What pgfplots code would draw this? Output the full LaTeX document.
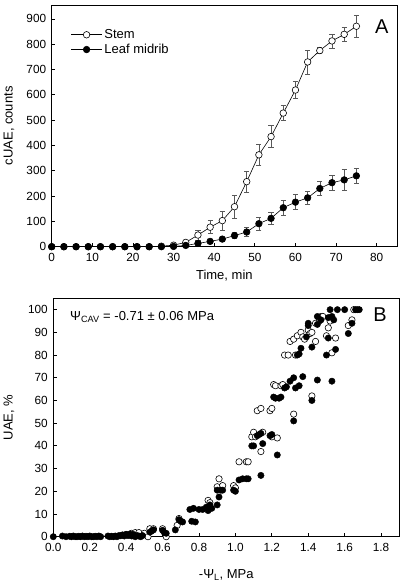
\documentclass[border=0pt]{standalone}
\usepackage{pgfplots}
\pgfplotsset{compat=1.18}
\usepackage{fontspec}
\setmainfont{Liberation Sans}
\begin{document}
\begin{tikzpicture}
\path[use as bounding box] (0,0) rectangle (403pt,-585pt);
\pgfplotsset{
  mystyle/.style={
    scale only axis, clip=false,
    tick align=inside, tick pos=left,
    major tick length=3.5pt,
    axis line style={line width=0.9pt},
    every tick/.style={black, line width=0.8pt},
    tick label style={font=\fontsize{11.8}{13}\selectfont},
    xticklabel style={yshift=-3.5pt},
    yticklabel style={xshift=-2pt},
    label style={font=\fontsize{13}{15}\selectfont},
    /pgf/number format/assume math mode=true,
  }
}
\begin{axis}[mystyle,
  at={(51.7pt,-5pt)}, anchor=north west,
  width=345.3pt, height=241.7pt,
  xmin=0, xmax=85, ymin=0, ymax=955,
  xtick={0,10,...,80}, ytick={0,100,...,900},
  xlabel={Time, min}, ylabel={cUAE, counts},
  xlabel style={at={(axis description cs:0.5,-0.119)}, anchor=center},
  ylabel style={at={(axis description cs:-0.124,0.5)}, anchor=center},
  legend style={draw=none, fill=none, font=\fontsize{13}{15}\selectfont,
    at={(axis description cs:0.046,0.916)}, anchor=north west, row sep=0pt},
  legend cell align=left,
  legend image code/.code={\draw[mark repeat=2,mark phase=2,#1] plot coordinates {(0pt,0pt) (15.5pt,0pt) (31pt,0pt)};},
]
\addplot[black, line width=0.6pt, mark=*, mark size=3.3pt, mark options={fill=white, draw=black, line width=0.6pt},
  error bars/.cd, y dir=both, y explicit,
  error bar style={gray!70!black, line width=0.6pt},
  error mark options={rotate=90, gray!70!black, mark size=2.6pt, line width=0.6pt}]
table[x=x, y=y, y error=e] {
x y e
0 0 0
3 0 0
6 0 0
9 0 0
12 0 0
15 0 0
18 0 0
21 0 0
24 0 0
27 2 2
30 6 4
33 17 6
36 46 20
39 77 26
42 103 38
45 158 44
48 257 41
51 363 41
54 435 44
57 528 29
60 619 34
63 730 47
66 775 11
69 813 28
72 839 28
75 871 43
};
\addlegendentry{Stem}
\addplot[black, line width=0.6pt, mark=*, mark size=3.3pt, mark options={fill=black, draw=black},
  error bars/.cd, y dir=both, y explicit,
  error bar style={gray!70!black, line width=0.6pt},
  error mark options={rotate=90, gray!70!black, mark size=2.6pt, line width=0.6pt}]
table[x=x, y=y, y error=e] {
x y e
0 0 0
3 0 0
6 0 0
9 0 0
12 0 0
15 0 0
18 0 0
21 0 0
24 0 0
27 0 0
30 1 1
33 5 3
36 13 5
39 21 5
42 30 8
45 44 12
48 58 17
51 91 25
54 112 22
57 154 30
60 176 30
63 193 24
66 230 28
69 253 30
72 264 40
75 280 30
};
\addlegendentry{Leaf midrib}
\node[font=\fontsize{20}{24}\selectfont] at (rel axis cs:0.9557,0.910) {A};
\end{axis}

\begin{axis}[mystyle,
  at={(53.3pt,-298.3pt)}, anchor=north west,
  width=346pt, height=238.4pt,
  xmin=0, xmax=1.9, ymin=0, ymax=105,
  xtick={0,0.2,...,1.8}, ytick={0,10,...,100},
  xticklabel style={/pgf/number format/.cd, fixed, fixed zerofill, precision=1},
  xlabel={-Ψ\textsubscript{L}, MPa}, ylabel={UAE, \%},
  xlabel style={at={(axis description cs:0.5,-0.162)}, anchor=center},
  ylabel style={at={(axis description cs:-0.128,0.5)}, anchor=center},
]
\addplot[only marks, mark=*, mark size=3.2pt, mark options={fill=white, draw=black, line width=0.6pt}]
coordinates {
(0.40,1)(0.43,1.5)(0.45,1.8)(0.47,1.8)(0.50,1.5)(0.52,0)(0.53,3.5)(0.55,3.5)(0.60,3.5)(0.62,0)(0.68,5)(0.69,8)
(0.85,16)(0.86,15)(0.91,25.5)(0.90,22)(0.93,22.5)(0.99,22.5)(1.00,21.5)(1.02,33)(1.06,33)(1.07,33)
(1.09,44)(1.10,46)(1.11,44)(1.14,37.5)(1.15,46)(1.20,44)(1.23,43.5)
(1.12,55.5)(1.14,56.5)(1.19,55.5)(1.20,56.5)(1.21,67)(1.22,66.5)(1.25,66.5)(1.26,67)(1.32,54)(1.42,62)
(1.27,80)(1.29,80)(1.33,80)(1.30,86)(1.32,87)(1.34,88.5)(1.36,90)(1.37,88)(1.38,87)(1.40,91)(1.41,89.5)
(1.42,90)(1.44,86)(1.46,95)(1.47,97)(1.48,97)(1.50,88.5)(1.51,92)(1.52,95)(1.53,81)(1.55,87.5)
(1.62,93)(1.64,95.5)(1.44,94)(1.65,100)
};
\addplot[only marks, mark=*, mark size=3.2pt, mark options={fill=black, draw=black}]
coordinates {
(0.00,0)(0.05,0.3)(0.07,0)(0.09,0.2)(0.10,0)(0.11,0.3)(0.12,0)(0.13,0)(0.14,0.2)(0.15,0)(0.16,0.3)(0.17,0)
(0.18,0.2)(0.19,0)(0.20,0.3)(0.21,0)(0.22,0)(0.23,0.2)(0.24,0)(0.25,0.3)(0.26,0)(0.30,0.3)(0.31,0)
(0.32,0.2)(0.33,0)(0.34,0.3)(0.35,0)(0.36,0.5)(0.37,0.4)(0.38,0.8)(0.39,0.3)(0.40,1.0)(0.41,0.5)(0.42,1.2)
(0.43,0.3)(0.44,1)(0.45,0)(0.46,0.5)(0.47,0.3)(0.48,0)(0.49,0.5)(0.53,2)(0.54,2.5)(0.55,3)(0.60,2.8)
(0.61,1.8)(0.62,1.5)
(0.67,3)(0.69,7.5)(0.70,6.8)(0.71,6.5)(0.75,12)(0.76,6.8)(0.77,12.5)(0.78,6.5)(0.80,12)(0.82,12)
(0.84,13)(0.85,11.5)(0.86,14)(0.87,12.5)(0.90,14)(0.90,20.5)(0.91,17.5)(0.92,20.5)(0.93,20.5)
(0.99,20.5)(1.00,20)(1.02,25)(1.04,25.5)(1.06,25.5)(1.07,25.5)(1.14,27)
(1.09,40)(1.10,40)(1.12,44.5)(1.13,45)(1.14,45.5)(1.15,41)(1.19,44.5)(1.20,45)(1.23,36)
(1.21,61.5)(1.22,61)(1.24,61)(1.25,61.5)(1.27,65.5)(1.28,66)(1.30,68.5)(1.32,70)(1.33,65.5)(1.35,66.5)
(1.37,70.5)(1.32,51)(1.42,60)(1.45,69)(1.53,68.5)
(1.34,80)(1.35,80.5)(1.36,83)(1.39,88)(1.40,93)(1.42,83.5)(1.40,94)(1.45,97)(1.45,93.5)(1.47,95.5)
(1.50,80)(1.51,87.5)(1.51,96.5)(1.52,100)(1.53,97)(1.54,95.5)(1.55,82.5)(1.56,100)(1.60,100)
(1.62,89.5)(1.64,94)(1.66,100)(1.67,100)(1.68,100)
};
\node[anchor=west, font=\fontsize{13}{15}\selectfont] at (rel axis cs:0.0387,0.923) {Ψ\textsubscript{CAV} = -0.71 ± 0.06 MPa};
\node[font=\fontsize{20}{24}\selectfont] at (rel axis cs:0.944,0.930) {B};
\end{axis}
\end{tikzpicture}
\end{document}
